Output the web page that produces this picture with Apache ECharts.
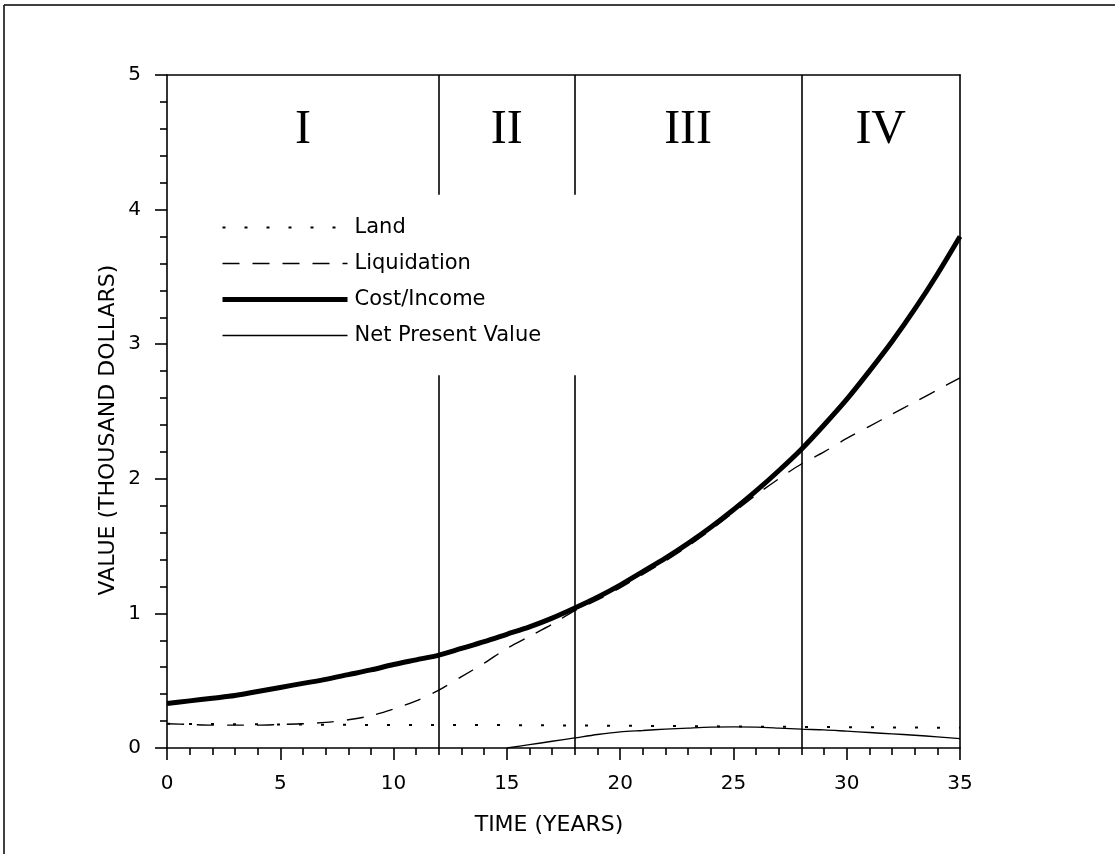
<!DOCTYPE html>
<html>
<head>
<meta charset="utf-8">
<script src="https://cdn.jsdelivr.net/npm/echarts@6/dist/echarts.min.js"></script>
<style>
  html, body { margin: 0; background: #fff; }
  #chart { width: 1115px; height: 854px; }
</style>
</head>
<body>
<div id="chart"></div>
<script>
// values (thousand dollars vs years)
const years = [0, 1, 2, 3, 4, 5, 6, 7, 8, 9, 10, 11, 12, 13, 14, 15, 16, 17,
  18, 19, 20, 21, 22, 23, 24, 25, 26, 27, 28, 29, 30, 31, 32, 33, 34, 35];
const costIncome = [0.33, 0.35, 0.37, 0.39, 0.42, 0.45, 0.48, 0.51, 0.545, 0.58, 0.62, 0.655,
  0.69, 0.74, 0.79, 0.845, 0.90, 0.965, 1.04, 1.12, 1.21, 1.31, 1.41, 1.52,
  1.64, 1.77, 1.91, 2.06, 2.22, 2.40, 2.59, 2.80, 3.02, 3.26, 3.52, 3.80];
const liquidation = [0.18, 0.175, 0.17, 0.17, 0.17, 0.175, 0.18, 0.19, 0.21, 0.24, 0.29, 0.35,
  0.43, 0.53, 0.63, 0.74, 0.83, 0.92, 1.02, 1.10, 1.19, 1.29, 1.39, 1.50,
  1.62, 1.75, 1.88, 2.00, 2.11, 2.20, 2.30, 2.39, 2.48, 2.57, 2.66, 2.75];
const landYears = [0, 5, 10, 15, 20, 25, 30, 35];
const land = [0.18, 0.175, 0.17, 0.17, 0.165, 0.16, 0.155, 0.15];
const npvYears = [15, 16, 17, 18, 19, 20, 21, 22, 23, 24, 25, 26, 27, 28, 29, 30, 31, 32, 33, 34, 35];
const npv = [0.0, 0.025, 0.05, 0.075, 0.10, 0.12, 0.13, 0.14, 0.148, 0.155, 0.157, 0.155,
  0.148, 0.14, 0.135, 0.125, 0.115, 0.105, 0.095, 0.083, 0.07];
const phaseBounds = [0, 12, 18, 28, 35];
const phaseLabels = ['I', 'II', 'III', 'IV'];

const FONT = 'DejaVu Sans';
const pairs = (xs, ys) => xs.map((x, i) => [x, ys[i]]);

// line looks, shared by the series and their legend entries
const looks = {
  'Land': { color: '#000', width: 2, type: [3, 19] },
  'Liquidation': { color: '#000', width: 1.4, type: [17, 13] },
  'Cost/Income': { color: '#000', width: 5, type: 'solid' },
  'Net Present Value': { color: '#000', width: 1.4, type: 'solid' }
};

// phase divider lines; the ones at 12 and 18 are broken around the legend
const gapLow = 2.77, gapHigh = 4.11, labelY = 4.59;
const dividerLines = [];
phaseBounds.slice(1, -1).forEach(b => {
  if (b < 20) {
    dividerLines.push([{ coord: [b, 0] }, { coord: [b, gapLow] }]);
    dividerLines.push([{ coord: [b, gapHigh] }, { coord: [b, 5] }]);
  } else {
    dividerLines.push([{ coord: [b, 0] }, { coord: [b, 5] }]);
  }
});
const phaseMarks = phaseLabels.map((l, i) => [(phaseBounds[i] + phaseBounds[i + 1]) / 2, labelY]);

const axisStyle = { lineStyle: { color: '#000', width: 1.6 } };

const chart = echarts.init(document.getElementById('chart'));
chart.setOption({
  animation: false,
  backgroundColor: '#fff',
  color: ['#000'],
  grid: { left: 167, right: 155, top: 75, bottom: 106 },
  legend: {
    orient: 'vertical',
    left: 220,
    top: 217,
    padding: 0,
    itemWidth: 125,
    itemHeight: 14,
    itemGap: 15,
    selectedMode: false,
    itemStyle: { opacity: 0 },
    data: Object.keys(looks).map(name => ({ name, lineStyle: looks[name], itemStyle: { opacity: 0 } })),
    textStyle: { fontFamily: FONT, fontSize: 21, color: '#000', padding: [0, 0, 0, 2] }
  },
  xAxis: [{
    type: 'value', min: 0, max: 35, interval: 5,
    axisLine: { onZero: false, ...axisStyle },
    axisTick: { length: 12, ...axisStyle },
    minorTick: { show: true, splitNumber: 5, length: 7, ...axisStyle },
    axisLabel: { margin: 26, fontFamily: FONT, fontSize: 20, color: '#000' },
    splitLine: { show: false }
  }, {
    type: 'value', min: 0, max: 35, position: 'top',
    axisLine: { onZero: false, ...axisStyle },
    axisTick: { show: false }, axisLabel: { show: false }, splitLine: { show: false }
  }],
  yAxis: [{
    type: 'value', min: 0, max: 5, interval: 1,
    axisLine: { onZero: false, ...axisStyle },
    axisTick: { length: 12, ...axisStyle },
    minorTick: { show: true, splitNumber: 5, length: 7, ...axisStyle },
    axisLabel: { margin: 26, fontFamily: FONT, fontSize: 20, color: '#000' },
    splitLine: { show: false }
  }, {
    type: 'value', min: 0, max: 5, position: 'right',
    axisLine: { onZero: false, ...axisStyle },
    axisTick: { show: false }, axisLabel: { show: false }, splitLine: { show: false }
  }],
  series: [
    {
      name: 'Land', type: 'line', symbol: 'none',
      data: pairs(landYears, land),
      lineStyle: looks['Land'],
      markLine: {
        silent: true, symbol: ['none', 'none'], label: { show: false },
        lineStyle: { color: '#000', width: 1.6, type: 'solid' },
        data: dividerLines
      }
    },
    {
      name: 'Liquidation', type: 'line', symbol: 'none', smooth: 0.3,
      data: pairs(years, liquidation),
      lineStyle: looks['Liquidation']
    },
    {
      name: 'Cost/Income', type: 'line', symbol: 'none', smooth: 0.3,
      data: pairs(years, costIncome),
      lineStyle: looks['Cost/Income']
    },
    {
      name: 'Net Present Value', type: 'line', symbol: 'none', smooth: 0.3,
      data: pairs(npvYears, npv),
      lineStyle: looks['Net Present Value']
    },
    {
      name: 'phases', type: 'scatter', symbolSize: 0, silent: true,
      data: phaseMarks,
      label: {
        show: true, position: 'inside',
        formatter: p => phaseLabels[p.dataIndex],
        fontFamily: 'Liberation Serif', fontSize: 48, color: '#000', opacity: 1
      }
    }
  ],
  graphic: [
    { type: 'line', shape: { x1: 4, y1: 5, x2: 1115, y2: 5 }, style: { stroke: '#000', lineWidth: 1.5 } },
    { type: 'line', shape: { x1: 4, y1: 5, x2: 4, y2: 854 }, style: { stroke: '#000', lineWidth: 1.5 } },
    {
      type: 'text', x: 108, y: 430, rotation: Math.PI / 2,
      style: { text: 'VALUE (THOUSAND DOLLARS)', fill: '#000', font: '22px "DejaVu Sans"', textAlign: 'center', textVerticalAlign: 'middle' }
    },
    {
      type: 'text', x: 549, y: 825,
      style: { text: 'TIME (YEARS)', fill: '#000', font: '22px "DejaVu Sans"', textAlign: 'center', textVerticalAlign: 'middle' }
    }
  ]
});
</script>
</body>
</html>
